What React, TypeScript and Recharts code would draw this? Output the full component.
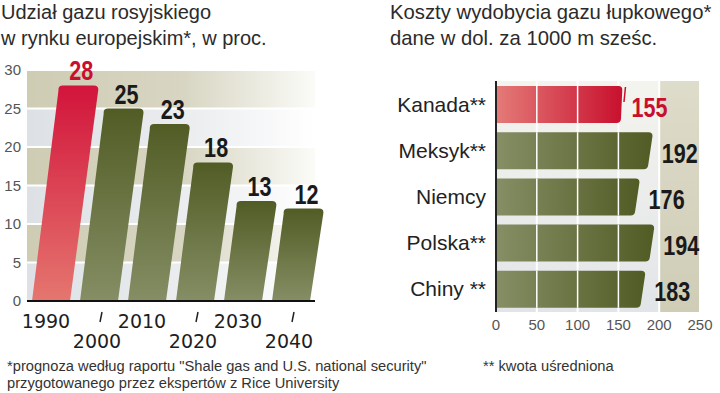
import React from 'react';
import { BarChart, Bar, XAxis, YAxis, CartesianGrid } from 'recharts';

// left chart: share of Russian gas in the European market, %
const years = ['1990', '2000', '2010', '2020', '2030', '2040'];
const russianShare = [28, 25, 23, 18, 13, 12];
const shareTicks = [0, 5, 10, 15, 20, 25, 30];

// right chart: shale gas extraction cost, USD per 1000 m3
const countries = ['Kanada**', 'Meksyk**', 'Niemcy', 'Polska**', 'Chiny **'];
const costs = [155, 192, 176, 194, 183];
const costTicks = [0, 50, 100, 150, 200, 250];

const shareData = years.map((year, i) => ({ year, share: russianShare[i] }));
const costData = countries.map((country, i) => ({ country, cost: costs[i] }));

const RED = '#c8102e';
const TEXT = '#2b2b2b';
const SANS = "'Liberation Sans', Arial, sans-serif";

// bold number squeezed horizontally, the source uses a condensed face
const BoldNum = ({ x, y, anchor, color, children }: any) => (
  <text
    transform={`translate(${x},${y}) scale(0.8,1)`}
    textAnchor={anchor}
    fontFamily={SANS}
    fontWeight="bold"
    fontSize={27}
    fill={color}
  >
    {children}
  </text>
);

const SlantBar = (props: any) => {
  const { x, y, width, height, index, payload } = props;
  const s = 0.12;
  const r = 5;
  const yb = y + height;
  const xl = x + s * height;
  const xr = x + width + s * height + 3;
  const dl = (xl - x) / height;
  const dr = (xr - x - width) / height;
  const d = [
    `M${x},${yb}`,
    `L${x + width},${yb}`,
    `L${xr - dr * r},${y + r}`,
    `Q${xr},${y} ${xr - r},${y}`,
    `L${xl + r},${y}`,
    `Q${xl},${y} ${xl + dl * r},${y + r}`,
    'Z',
  ].join(' ');
  const first = index === 0;
  return (
    <g>
      <path d={d} fill={first ? 'url(#redV)' : 'url(#greenV)'} />
      <BoldNum x={(xl + xr) / 2 + 3} y={y - 5} anchor="middle" color={first ? RED : '#1a1a1a'}>
        {payload.share}
      </BoldNum>
    </g>
  );
};

const YearTick = (props: any) => {
  const { x, y, payload, index } = props;
  const lower = index % 2 === 1;
  return (
    <g>
      {lower && <line x1={x + 1} y1={y + 21} x2={x + 3} y2={y + 11} stroke="#222" strokeWidth={1.5} />}
      <text
        x={x + (lower ? -2 : -5)}
        y={y + (lower ? 47 : 27)}
        textAnchor="middle"
        fontFamily="'DejaVu Sans', sans-serif"
        fontSize={19}
        fill="#1e1e1e"
      >
        {payload.value}
      </text>
    </g>
  );
};

const CostBar = (props: any) => {
  const { x, y, width, height, index, payload } = props;
  const first = index === 0;
  const r = 4;
  const cut = first ? 2 : 5;
  const xe = x + width;
  const d = [
    `M${x},${y}`,
    `L${xe - r},${y}`,
    `Q${xe},${y} ${xe - 0.2},${y + r}`,
    `L${xe - cut + 0.5},${y + height - r}`,
    `Q${xe - cut},${y + height} ${xe - cut - r},${y + height}`,
    `L${x},${y + height}`,
    'Z',
  ].join(' ');
  const unit = width / payload.cost;
  const grid = costTicks.filter((t) => t > 0 && t * unit < width - 6);
  return (
    <g>
      <path d={d} fill={first ? 'url(#redH)' : 'url(#greenH)'} />
      {grid.map((t) => (
        <line key={t} x1={x + t * unit} x2={x + t * unit} y1={y} y2={y + height} stroke="#fff" strokeWidth={1.5} />
      ))}
      {first && <line x1={xe + 3} y1={y + 1} x2={xe + 1.5} y2={y + 16} stroke={RED} strokeWidth={1.5} />}
      <BoldNum x={xe + 9} y={y + height / 2 + 12} anchor="start" color={first ? RED : '#1a1a1a'}>
        {payload.cost}
      </BoldNum>
    </g>
  );
};

const App: React.FC = () => {
  return (
    <div
      style={{
        position: 'absolute',
        left: 0,
        top: 0,
        width: 720,
        height: 393,
        background: '#fff',
        fontFamily: SANS,
        color: TEXT,
        overflow: 'hidden',
      }}
    >
      <div style={{ position: 'absolute', left: 1, top: -1, fontSize: 20, lineHeight: '26px', fontWeight: 300 }}>
        Udział gazu rosyjskiego
        <br />w rynku europejskim*, w proc.
      </div>
      <div style={{ position: 'absolute', left: 390, top: -1, fontSize: 20.3, lineHeight: '26px', fontWeight: 300 }}>
        Koszty wydobycia gazu łupkowego*
        <br />
        dane w dol. za 1000 m sześc.
      </div>

      <div style={{ position: 'absolute', left: 0, top: 0 }}>
        <BarChart width={340} height={360} data={shareData} margin={{ top: 70, right: 25, left: 0, bottom: 9 }} barSize={38}>
          <defs>
            <linearGradient id="redV" x1="0" y1="0" x2="0" y2="1">
              <stop offset="0%" stopColor="#d2143b" />
              <stop offset="100%" stopColor="#e5766f" />
            </linearGradient>
            <linearGradient id="greenV" x1="0" y1="0" x2="0" y2="1">
              <stop offset="0%" stopColor="#515c25" />
              <stop offset="100%" stopColor="#858e64" />
            </linearGradient>
            <linearGradient id="tanBand" x1="0" y1="0" x2="1" y2="0">
              <stop offset="0%" stopColor="#cfccb4" />
              <stop offset="55%" stopColor="#d8d6c3" />
              <stop offset="100%" stopColor="#fbfbf8" />
            </linearGradient>
            <linearGradient id="greyBand" x1="0" y1="0" x2="1" y2="0">
              <stop offset="0%" stopColor="#dde1e5" />
              <stop offset="60%" stopColor="#eceef0" />
              <stop offset="100%" stopColor="#ffffff" />
            </linearGradient>
          </defs>
          <CartesianGrid
            vertical={false}
            stroke="#fff"
            strokeWidth={2}
            horizontalFill={['url(#tanBand)', 'url(#greyBand)']}
            fillOpacity={1}
          />
          <XAxis
            dataKey="year"
            height={50}
            interval={0}
            tickLine={false}
            tickSize={0}
            tickMargin={0}
            axisLine={{ stroke: '#111', strokeWidth: 2 }}
            tick={<YearTick />}
          />
          <YAxis
            width={27}
            domain={[0, 30]}
            ticks={shareTicks}
            tickLine={false}
            axisLine={false}
            tickSize={4}
            tickMargin={2}
            tick={{ fill: '#555', fontSize: 15, fontFamily: SANS }}
          />
          <Bar dataKey="share" shape={<SlantBar />} isAnimationActive={false} />
        </BarChart>
      </div>

      <div style={{ position: 'absolute', left: 360, top: 0 }}>
        <BarChart
          width={360}
          height={360}
          data={costData}
          layout="vertical"
          margin={{ top: 81, right: 20, left: 0, bottom: 18 }}
          barSize={37}
        >
          <defs>
            <linearGradient id="redH" x1="0" y1="0" x2="1" y2="0">
              <stop offset="0%" stopColor="#e47b78" />
              <stop offset="100%" stopColor="#c8102e" />
            </linearGradient>
            <linearGradient id="greenH" x1="0" y1="0" x2="1" y2="0">
              <stop offset="0%" stopColor="#868f65" />
              <stop offset="100%" stopColor="#515b24" />
            </linearGradient>
            <linearGradient id="lightCol" x1="0" y1="0" x2="0" y2="1">
              <stop offset="0%" stopColor="#f4f4ef" />
              <stop offset="100%" stopColor="#e2e5e8" />
            </linearGradient>
            <linearGradient id="tanCol" x1="0" y1="0" x2="0" y2="1">
              <stop offset="0%" stopColor="#dedcca" />
              <stop offset="100%" stopColor="#cfcdb6" />
            </linearGradient>
          </defs>
          <CartesianGrid
            horizontal={false}
            stroke="#fff"
            strokeWidth={2}
            verticalFill={['url(#lightCol)', 'url(#lightCol)', 'url(#lightCol)', 'url(#lightCol)', 'url(#tanCol)']}
            fillOpacity={1}
          />
          <XAxis
            type="number"
            domain={[0, 250]}
            ticks={costTicks}
            height={30}
            tickLine={false}
            axisLine={false}
            tickSize={5}
            tickMargin={2}
            tick={{ fill: '#555', fontSize: 15, fontFamily: SANS }}
          />
          <YAxis
            type="category"
            dataKey="country"
            width={136}
            tickLine={false}
            tickSize={8}
            tickMargin={2}
            axisLine={{ stroke: '#222', strokeWidth: 2 }}
            tick={{ fill: '#222', fontSize: 21, fontFamily: SANS }}
          />
          <Bar dataKey="cost" shape={<CostBar />} isAnimationActive={false} />
        </BarChart>
      </div>

      <div style={{ position: 'absolute', left: 7, top: 358, fontSize: 14.7, lineHeight: '17px', color: '#333' }}>
        *prognoza według raportu "Shale gas and U.S. national security"
        <br />
        przygotowanego przez ekspertów z Rice University
      </div>
      <div style={{ position: 'absolute', left: 483, top: 358, fontSize: 14.7, lineHeight: '17px', color: '#333' }}>
        ** kwota uśredniona
      </div>
    </div>
  );
};

export default App;
